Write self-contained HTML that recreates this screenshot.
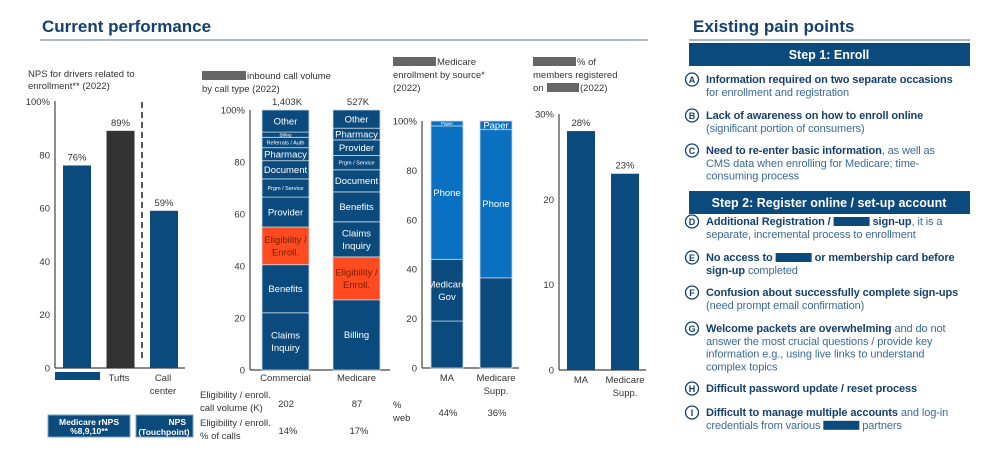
<!DOCTYPE html>
<html><head><meta charset="utf-8">
<style>
html,body{margin:0;padding:0;background:#fff;}
svg{display:block;font-family:"Liberation Sans",sans-serif;}
</style></head>
<body>
<svg id="slide" width="1000" height="453" viewBox="0 0 1000 453" xmlns="http://www.w3.org/2000/svg">
  <text x="42" y="32" font-size="17" font-weight="bold" fill="#14406e">Current performance</text>
  <rect x="40" y="39" width="608" height="2" fill="#a9b8cc"/>
  <text x="693" y="32" font-size="17" font-weight="bold" fill="#14406e">Existing pain points</text>
  <rect x="689" y="39" width="281" height="2" fill="#a9b8cc"/>

  <g font-size="9.5" fill="#333">
    <text x="28" y="77">NPS for drivers related to</text>
    <text x="28" y="89">enrollment** (2022)</text>
    <rect x="202" y="71" width="44" height="9" fill="#666"/>
    <text x="247" y="79">inbound call volume</text>
    <text x="202" y="92">by call type (2022)</text>
    <rect x="393" y="57" width="43" height="9" fill="#666"/>
    <text x="437" y="65">Medicare</text>
    <text x="393" y="78">enrollment by source*</text>
    <text x="393" y="91">(2022)</text>
    <rect x="533" y="57" width="43" height="9" fill="#666"/>
    <text x="577" y="65">% of</text>
    <text x="533" y="78">members registered</text>
    <text x="533" y="91">on</text>
    <rect x="547" y="83" width="32" height="9" fill="#666"/>
    <text x="580" y="91">(2022)</text>
  </g>

  <g id="charts"></g>

  <line x1="142" y1="102" x2="142" y2="362" stroke="#222" stroke-width="1.5" stroke-dasharray="6,4"/>
  <rect x="55" y="372" width="45" height="8" fill="#0b4a7c"/>
  <g font-size="9.5" fill="#333" text-anchor="middle">
    <text x="119" y="381">Tufts</text>
    <text x="163" y="381">Call</text>
    <text x="163" y="394">center</text>
  </g>
  <rect x="48" y="415" width="82" height="22" fill="#0b4a7c" stroke="#7fa3c8"/>
  <text x="89" y="425" font-size="8.5" font-weight="bold" fill="#fff" text-anchor="middle">Medicare rNPS</text>
  <text x="89" y="434" font-size="8.5" font-weight="bold" fill="#fff" text-anchor="middle">%8,9,10**</text>
  <rect x="136" y="415" width="57" height="22" fill="#0b4a7c" stroke="#7fa3c8"/>
  <text x="186" y="425" font-size="8.5" font-weight="bold" fill="#fff" text-anchor="end">NPS</text>
  <text x="164" y="435" font-size="8.5" font-weight="bold" fill="#fff" text-anchor="middle">(Touchpoint)</text>

  <g font-size="9.5" fill="#333">
    <text x="200" y="398">Eligibility / enroll.</text>
    <text x="200" y="411">call volume (K)</text>
    <text x="200" y="426">Eligibility / enroll.</text>
    <text x="200" y="439">% of calls</text>
    <text x="393" y="408">%</text>
    <text x="393" y="421">web</text>
  </g>

  <g id="pain"></g>
</svg>

<script>
// ---------- data ----------
const npsCategories = ["", "Tufts", "Call center"];
const npsValues = [76, 89, 59];
const npsTicks = [0, 20, 40, 60, 80, 100];

const callCategories = ["Commercial", "Medicare"];
const callTotals = ["1,403K", "527K"];
const commercialLabels = ["Claims Inquiry", "Benefits", "Eligibility / Enroll.", "Provider", "Prgm / Service", "Document", "Pharmacy", "Referrals / Auth", "Billing", "Other"];
const commercialValues = [22, 18.5, 14.5, 11.5, 7, 7, 5, 4, 2, 8.5];
const medicareLabels = ["Billing", "Eligibility / Enroll.", "Claims Inquiry", "Benefits", "Document", "Prgm / Service", "Provider", "Pharmacy", "Other"];
const medicareValues = [27, 16.5, 13.5, 11.5, 8.5, 5.5, 6, 4.5, 7];
const eligVolume = ["202", "87"];
const eligPct = ["14%", "17%"];
const callTicks = [0, 20, 40, 60, 80, 100];

const enrollCategories = ["MA", "Medicare Supp."];
const maLabels = ["", "Medicare Gov", "Phone", "Paper"];
const maValues = [19, 25, 54, 2];
const suppLabels = ["", "Phone", "Paper"];
const suppValues = [36.5, 60, 3.5];
const webPct = ["44%", "36%"];
const enrollTicks = [0, 20, 40, 60, 80, 100];

const regCategories = ["MA", "Medicare Supp."];
const regValues = [28, 23];
const regTicks = [0, 10, 20, 30];

// ---------- helpers ----------
const NS = "http://www.w3.org/2000/svg";
const root = document.getElementById("charts");
const NAVY = "#0b4a7c", RED = "#ff4b1f", LIGHT = "#0a70c2";
function mk(tag, attrs, parent) {
  const e = document.createElementNS(NS, tag);
  for (const k in attrs) e.setAttribute(k, attrs[k]);
  (parent || root).appendChild(e);
  return e;
}
function txt(x, y, s, size, fill, anchor, weight) {
  const t = mk("text", {x: x, y: y, "font-size": size, fill: fill, "text-anchor": anchor || "middle"});
  if (weight) t.setAttribute("font-weight", weight);
  t.textContent = s;
  return t;
}
function axis(name, x, y0, y1, x2, ticks, scale) {
  const a = mk("line", {x1: x, y1: y1, x2: x, y2: y0, stroke: "#444", "stroke-width": 1.2});
  
  
  const b = mk("line", {x1: x, y1: y0, x2: x2, y2: y0, stroke: "#444", "stroke-width": 1.2});
  
  
  ticks.forEach((t, i) => {
    const lab = txt(x - 5, scale(t) + 3.5, i === ticks.length - 1 ? t + "%" : String(t), 9.5, "#333", "end");
    
    
  });
}

// ---------- chart 1 ----------
const y1 = v => 368 - v * 2.665;
axis("nps", 55, 368, 101, 185, npsTicks, y1);
npsValues.forEach((v, i) => {
  const x = 63 + i * 43.5;
  const r = mk("rect", {x: x, y: y1(v), width: 28, height: 368 - y1(v), fill: i === 1 ? "#333333" : NAVY});
  
  
  const l = txt(x + 14, y1(v) - 5, v + "%", 9.5, "#333");
  
  
});

// ---------- chart 2 ----------
const y2 = v => 370 - v * 2.6;
axis("calls", 250, 370, 110, 390, callTicks, y2);
function stack(vals, labels, x, w, scale, colorFn, name) {
  let acc = 0;
  vals.forEach((v, i) => {
    const top = scale(acc + v), bot = scale(acc);
    const r = mk("rect", {x: x, y: top, width: w, height: bot - top, fill: colorFn(labels[i]), stroke: "#c9d6e4", "stroke-width": 0.8});
    
    
    const h = bot - top, lab = labels[i];
    if (lab) {
      let fs = 9.5;
      if (h < 8) fs = 4.5;
      else if (lab.indexOf("Prgm") === 0 || lab.indexOf("Referrals") === 0) fs = 5.5;
      const words = (lab.length > 11 && h > 22) ? (lab.indexOf("Eligibility") === 0 ? ["Eligibility /", "Enroll."] : lab.split(" ")) : [lab];
      const cy = (top + bot) / 2;
      words.forEach((wd, k) => {
        const t = txt(x + w / 2, cy + fs * 0.35 + (k - (words.length - 1) / 2) * (fs + 3), wd, fs, colorFn(lab) === RED ? "#7a1a00" : "#fff");
        
        
      });
    }
    acc += v;
  });
}
const callColor = l => l.indexOf("Eligibility") === 0 ? RED : NAVY;
[commercialValues, medicareValues].forEach((vals, i) => {
  const x = 262 + i * 71;
  stack(vals, i === 0 ? commercialLabels : medicareLabels, x, 47, y2, callColor, "calls-" + callCategories[i].toLowerCase());
  const c = txt(x + 23.5, 381, callCategories[i], 9.5, "#333");
  
  
  const t = txt(x + 25, 105, callTotals[i], 9.5, "#333");
  
  
  const a = txt(x + 24, 407, eligVolume[i], 9.5, "#333");
  
  
  const b = txt(x + 26, 434, eligPct[i], 9.5, "#333");
  
  
});

// ---------- chart 3 ----------
const y3 = v => 368 - v * 2.47;
axis("enroll", 422, 368, 121, 519, enrollTicks, y3);
const enrollColor = l => (l === "Phone" || l === "Paper") ? LIGHT : NAVY;
[maValues, suppValues].forEach((vals, i) => {
  const x = 431 + i * 49;
  stack(vals, i === 0 ? maLabels : suppLabels, x, 32, y3, enrollColor, "enroll-" + i);
  const parts = enrollCategories[i] === "Medicare Supp." ? ["Medicare", "Supp."] : [enrollCategories[i]];
  parts.forEach((p, k) => {
    const c = txt(x + 16, 381 + k * 13, p, 9.5, "#333");
    
    
  });
  const w = txt(x + 17, 416, webPct[i], 9.5, "#333");
  
  
});

// ---------- chart 4 ----------
const y4 = v => 370 - v * 8.533;
axis("reg", 559, 370, 114, 646, regTicks, y4);
regValues.forEach((v, i) => {
  const x = 567 + i * 44;
  const r = mk("rect", {x: x, y: y4(v), width: 28, height: 370 - y4(v), fill: NAVY});
  
  
  const l = txt(x + 14, y4(v) - 5, v + "%", 9.5, "#333");
  
  
  const parts = regCategories[i] === "Medicare Supp." ? ["Medicare", "Supp."] : [regCategories[i]];
  parts.forEach((p, k) => {
    const c = txt(x + 14, 383 + k * 13, p, 9.5, "#333");
    
    
  });
});

// ---------- right panel ----------
const pain = document.getElementById("pain");
function box(y, label, name) {
  const r = mk("rect", {x: 689, y: y, width: 281, height: 23, fill: "#0b4a7c"}, pain);
  
  
  const t = mk("text", {x: 829, y: y + 16, "font-size": 12.5, "font-weight": "bold", fill: "#fff", "text-anchor": "middle"}, pain);
  
  
  t.textContent = label;
}
box(43, "Step 1: Enroll", "step1-header");
box(191, "Step 2: Register online / set-up account", "step2-header");
const items = [
  ["A", 83, [[["Information required on two separate occasions", 1]], [["for enrollment and registration", 0]]]],
  ["B", 119, [[["Lack of awareness on how to enroll online", 1]], [["(significant portion of consumers)", 0]]]],
  ["C", 154, [[["Need to re-enter basic information", 1], [", as well as", 0]], [["CMS data when enrolling for Medicare; time-", 0]], [["consuming process", 0]]]],
  ["D", 225, [[["Additional Registration / ", 1], ["#R", 0], [" sign-up", 1], [", it is a", 0]], [["separate, incremental process to enrollment", 0]]]],
  ["E", 261, [[["No access to ", 1], ["#R", 0], [" or membership card before", 1]], [["sign-up", 1], [" completed", 0]]]],
  ["F", 296, [[["Confusion about successfully complete sign-ups", 1]], [["(need prompt email confirmation)", 0]]]],
  ["G", 332, [[["Welcome packets are overwhelming", 1], [" and do not", 0]], [["answer the most crucial questions / provide key", 0]], [["information e.g., using live links to understand", 0]], [["complex topics", 0]]]],
  ["H", 392, [[["Difficult password update / reset process", 1]]]],
  ["I", 416, [[["Difficult to manage multiple accounts", 1], [" and log-in", 0]], [["credentials from various ", 0], ["#R", 0], [" partners", 0]]]]
];
items.forEach(it => {
  const [letter, y, lines] = it;
  const c = mk("circle", {cx: 692, cy: y - 3.5, r: 6.5, fill: "#fff", stroke: "#14406e", "stroke-width": 1.3}, pain);
  
  
  const lt = mk("text", {x: 692, y: y, "font-size": 9, "font-weight": "bold", fill: "#14406e", "text-anchor": "middle"}, pain);
  
  
  lt.textContent = letter;
  lines.forEach((ln, li) => {
    let x = 706;
    const ly = y + li * 12.8;
    ln.forEach(seg => {
      if (seg[0] === "#R") {
        const r = mk("rect", {x: x, y: ly - 8, width: 36, height: 9, fill: "#0b4a7c"}, pain);
        
        
        x += 36;
        return;
      }
      const t = mk("text", {x: x, y: ly, "font-size": 11, "font-weight": seg[1] ? "bold" : "normal", fill: seg[1] ? "#14406e" : "#3a6a9a", style: "white-space:pre", "letter-spacing": "-0.1"}, pain);
      
      
      t.textContent = seg[0];
      x += t.getComputedTextLength();
    });
  });
});
</script>
</body></html>
